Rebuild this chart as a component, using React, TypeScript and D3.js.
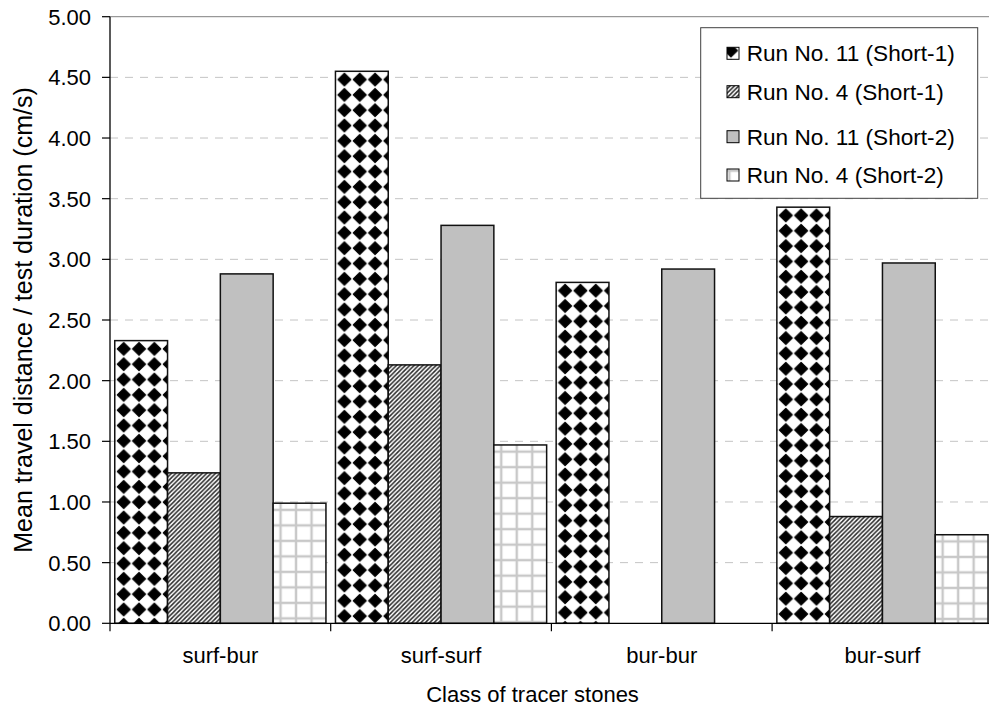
import React from "react";
import * as d3 from "d3";

const categories = ["surf-bur", "surf-surf", "bur-bur", "bur-surf"];
const seriesNames = [
  "Run No. 11 (Short-1)",
  "Run No. 4 (Short-1)",
  "Run No. 11 (Short-2)",
  "Run No. 4 (Short-2)",
];
const run11Short1 = [2.33, 4.55, 2.81, 3.43];
const run4Short1 = [1.24, 2.13, 0, 0.88];
const run11Short2 = [2.88, 3.28, 2.92, 2.97];
const run4Short2 = [0.99, 1.47, 0, 0.73];
const seriesValues = [run11Short1, run4Short1, run11Short2, run4Short2];
const yTicks = [0, 0.5, 1, 1.5, 2, 2.5, 3, 3.5, 4, 4.5, 5];

const W = 989;
const H = 714;
const FONT = "'Liberation Sans', Arial, Helvetica, sans-serif";
const FS = 22;
const LEGEND_FS = 22.6;
const Y_TITLE_FS = 25;

const plotLeft = 110;
const plotTop = 16.7;
const plotBottom = 623.3;
const catStep = 220.7;
const plotRight = plotLeft + catStep * categories.length;

const x0 = d3.scaleBand<string>().domain(categories).range([plotLeft, plotRight]).paddingInner(0).paddingOuter(0);
const x1 = d3
  .scaleBand<string>()
  .domain(seriesNames)
  .range([0, x0.bandwidth()])
  .paddingInner(0)
  .paddingOuter(0.09);
const y = d3.scaleLinear().domain([0, 5]).range([plotBottom, plotTop]);
const fmt = d3.format(".2f");

// Pattern builders; each bar gets its own pattern anchored at its top-left corner
function patternFor(si: number, id: string, px: number, py: number) {
  if (si === 0) {
    const p = 15.33;
    const h = p / 2;
    const r = 6.4;
    return (
      <pattern key={id} id={id} patternUnits="userSpaceOnUse" x={px + 1.3} y={py + 0.6} width={p} height={p}>
        <rect width={p} height={p} fill="#fff" />
        <path d={`M${h},${h - r} L${h + r},${h} L${h},${h + r} L${h - r},${h} Z`} fill="#000" stroke="#000" strokeWidth={1.2} strokeLinejoin="round" />
      </pattern>
    );
  }
  if (si === 1) {
    const p = 4.4;
    return (
      <pattern key={id} id={id} patternUnits="userSpaceOnUse" x={px} y={py} width={p} height={p}>
        <rect width={p} height={p} fill="#fff" />
        <path d={`M${-p / 2},${p / 2} L${p / 2},${-p / 2} M0,${p} L${p},0 M${p / 2},${p * 1.5} L${p * 1.5},${p / 2}`} stroke="#2a2a2a" strokeWidth={1.5} />
      </pattern>
    );
  }
  if (si === 3) {
    const p = 15.5;
    const h = p / 2;
    return (
      <pattern key={id} id={id} patternUnits="userSpaceOnUse" x={px + 7.4 - h} y={py + 6.7 - h} width={p} height={p}>
        <rect width={p} height={p} fill="#fff" />
        <path d={`M${h},0 V${p} M0,${h} H${p}`} stroke="#c8c8c8" strokeWidth={2.4} />
      </pattern>
    );
  }
  return null;
}

function fillFor(si: number, id: string) {
  if (si === 2) return "#c0c0c0";
  return `url(#${id})`;
}

export default function App() {
  const bars: { ci: number; si: number; x: number; y: number; w: number; h: number; id: string }[] = [];
  categories.forEach((c, ci) => {
    seriesNames.forEach((s, si) => {
      const v = seriesValues[si][ci];
      if (!v) return;
      const bx = (x0(c) as number) + (x1(s) as number);
      const by = y(v);
      bars.push({ ci, si, x: bx, y: by, w: x1.bandwidth(), h: y(0) - by, id: `pat-${ci}-${si}` });
    });
  });

  // legend layout
  const lgX = 700.7;
  const lgY = 27.7;
  const lgW = 277;
  const lgH = 170.6;
  const rowY = [53.3, 91.7, 136.7, 175];
  const swX = 727;
  const swS = 12;

  return (
    <svg
      width={W}
      height={H}
      viewBox={`0 0 ${W} ${H}`}
      style={{ position: "absolute", left: 0, top: 0, background: "#fff" }}
      fontFamily={FONT}
    >
      <defs>
        {bars.map((b) => patternFor(b.si, b.id, b.x, b.y))}
        {seriesNames.map((_, si) => patternFor(si, `lg-${si}`, swX - 5, rowY[si] - swS / 2 - 5))}
      </defs>
      <rect width={W} height={H} fill="#fff" />

      {/* horizontal gridlines */}
      {yTicks.slice(1, -1).map((t) => (
        <line key={t} x1={plotLeft} x2={W} y1={y(t)} y2={y(t)} stroke="#c4c4c4" strokeWidth={1} strokeDasharray="8 7" />
      ))}
      <line x1={plotLeft} x2={W} y1={y(5)} y2={y(5)} stroke="#808080" strokeWidth={1} />

      {/* bars */}
      {bars.map((b) => (
        <rect key={b.id} x={b.x} y={b.y} width={b.w} height={b.h} fill={fillFor(b.si, b.id)} stroke="#111" strokeWidth={1.5} />
      ))}

      {/* y axis */}
      <line x1={plotLeft} x2={plotLeft} y1={plotTop} y2={plotBottom} stroke="#000" strokeWidth={1.3} />
      {yTicks.map((t) => (
        <g key={t}>
          <line x1={plotLeft - 8} x2={plotLeft} y1={y(t)} y2={y(t)} stroke="#000" strokeWidth={1.2} />
          <text x={91} y={y(t)} dy="0.36em" textAnchor="end" fontSize={FS} fill="#000">
            {fmt(t)}
          </text>
        </g>
      ))}

      {/* x axis */}
      <line x1={plotLeft} x2={W} y1={plotBottom} y2={plotBottom} stroke="#000" strokeWidth={1.3} />
      {categories.map((c) => (
        <line key={c} x1={x0(c) as number} x2={x0(c) as number} y1={plotBottom} y2={plotBottom + 8} stroke="#000" strokeWidth={1.2} />
      ))}
      {categories.map((c) => (
        <text key={c} x={(x0(c) as number) + x0.bandwidth() / 2} y={663} textAnchor="middle" fontSize={FS} fill="#000">
          {c}
        </text>
      ))}

      {/* axis titles */}
      <text x={532.5} y={702} textAnchor="middle" fontSize={FS} fill="#000">
        Class of tracer stones
      </text>
      <text transform={`translate(31.5,320) rotate(-90)`} textAnchor="middle" fontSize={Y_TITLE_FS} fill="#000">
        Mean travel distance / test duration (cm/s)
      </text>

      {/* legend */}
      <rect x={lgX} y={lgY} width={lgW} height={lgH} fill="#fff" stroke="#404040" strokeWidth={1} />
      {seriesNames.map((s, si) => (
        <g key={s}>
          <rect
            x={swX}
            y={rowY[si] - swS / 2}
            width={swS}
            height={swS}
            fill={si === 2 ? "#c0c0c0" : `url(#lg-${si})`}
            stroke="#000"
            strokeWidth={1}
          />
          <text x={746.7} y={rowY[si]} dy="0.36em" fontSize={LEGEND_FS} fill="#000">
            {s}
          </text>
        </g>
      ))}
    </svg>
  );
}
